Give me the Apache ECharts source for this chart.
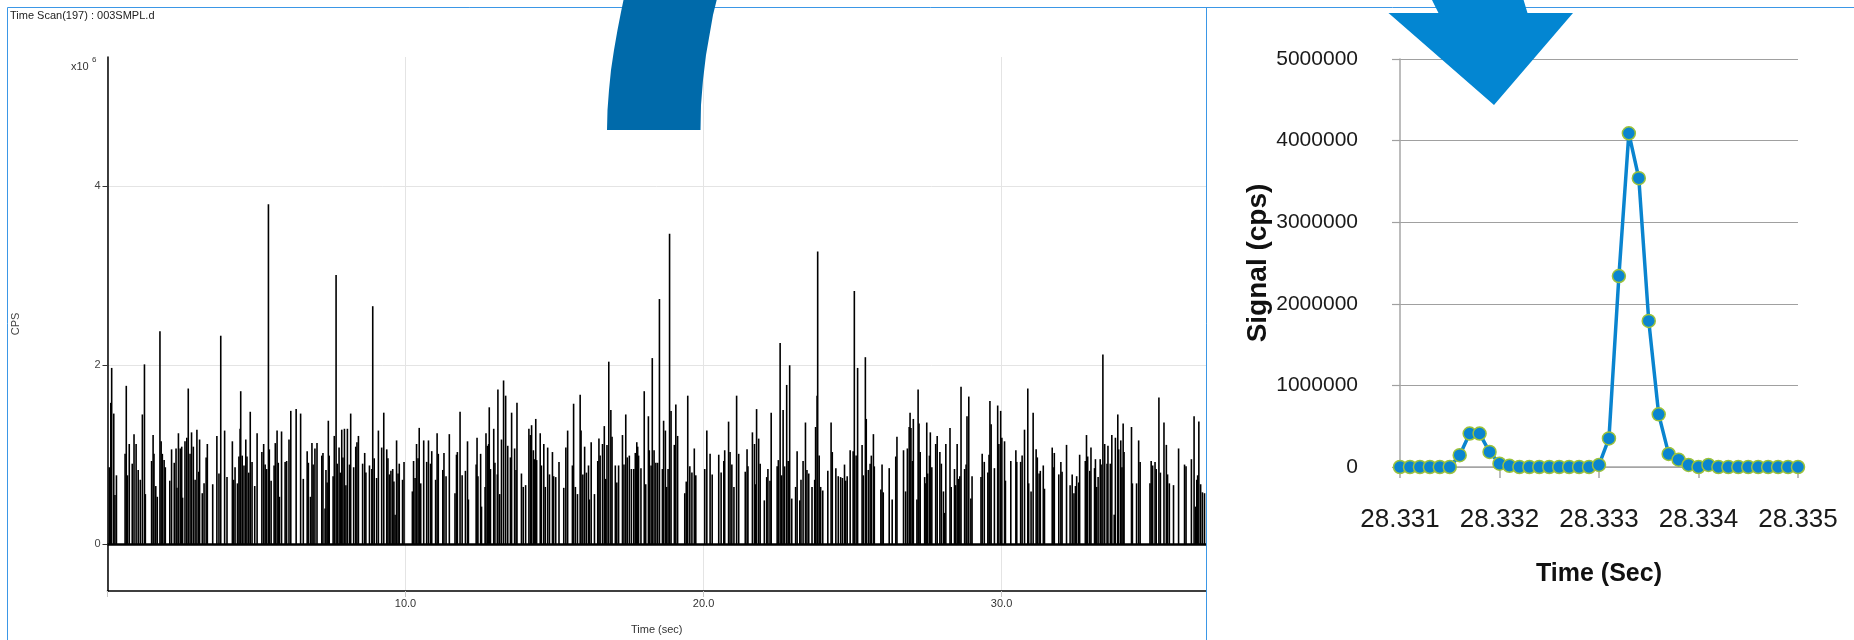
<!DOCTYPE html>
<html>
<head>
<meta charset="utf-8">
<title>Time Scan(197) : 003SMPL.d</title>
<script src="https://cdn.jsdelivr.net/npm/echarts@6/dist/echarts.min.js"></script>
<style>
  html, body { margin: 0; padding: 0; background: #fff; }
  #chart { width: 1854px; height: 640px; }
</style>
</head>
<body>
<div id="chart"></div>
<script>
// time scan: time (sec) and CPS in units of 10^6
const scanTime = [
  0.06,0.11,0.14,0.21,0.25,0.30,0.59,0.63,0.67,0.73,0.83,0.89,0.96,1.03,1.10,1.17,1.24,1.27,1.48,1.53,1.56,1.62,1.67,1.76,1.80,1.84,1.90,1.94,2.09,2.15,2.24,2.30,2.33,2.38,2.44,2.49,2.52,2.60,2.66,2.71,2.77,2.82,2.88,2.94,3.00,3.06,3.09,3.18,3.24,3.31,3.35,3.53,3.67,3.74,3.80,3.93,4.01,4.19,4.23,4.28,4.36,4.41,4.45,4.47,4.52,4.58,4.64,4.68,4.74,4.79,4.85,4.94,5.02,5.18,5.24,5.29,5.34,5.40,5.43,5.49,5.59,5.63,5.69,5.73,5.77,5.84,5.96,6.01,6.09,6.15,6.33,6.48,6.57,6.70,6.74,6.81,6.86,6.90,6.96,7.03,7.19,7.23,7.30,7.33,7.37,7.41,7.44,7.57,7.61,7.67,7.71,7.77,7.81,7.86,7.90,7.95,8.00,8.05,8.12,8.16,8.26,8.33,8.37,8.42,8.56,8.63,8.67,8.79,8.87,8.90,8.95,9.03,9.09,9.20,9.27,
  9.37,9.41,9.46,9.51,9.57,9.61,9.65,9.70,9.75,9.79,9.90,9.95,10.23,10.27,10.32,10.37,10.42,10.46,10.51,10.61,10.71,10.77,10.84,10.88,11.01,11.06,11.10,11.25,11.29,11.36,11.47,11.66,11.71,11.74,11.83,11.90,12.01,12.08,12.11,12.37,12.40,12.43,12.52,12.55,12.67,12.70,12.75,12.79,12.81,12.85,12.96,13.00,13.08,13.10,13.16,13.22,13.29,13.36,13.43,13.52,13.56,13.66,13.71,13.74,13.89,13.95,14.03,14.14,14.19,14.23,14.29,14.32,14.37,14.40,14.52,14.56,14.64,14.69,14.77,14.83,14.93,14.97,15.04,15.15,15.31,15.38,15.44,15.60,15.64,15.70,15.77,15.86,15.89,15.95,16.01,16.07,16.14,16.17,16.23,16.34,16.45,16.49,16.53,16.61,16.67,16.72,16.76,16.82,16.89,16.93,17.04,17.09,17.15,17.28,17.33,17.39,17.44,17.51,17.58,17.66,17.71,17.76,17.79,17.82,17.90,18.01,18.06,18.15,18.18,18.24,18.28,18.34,18.40,18.46,18.52,
  18.62,18.66,18.72,18.76,18.81,18.86,18.91,19.02,19.07,19.13,19.37,19.42,19.47,19.54,19.61,19.69,19.74,20.04,20.11,20.22,20.29,20.51,20.59,20.68,20.71,20.84,20.89,20.95,21.02,21.11,21.18,21.40,21.46,21.49,21.64,21.71,21.74,21.78,21.85,21.90,22.04,22.12,22.16,22.23,22.27,22.47,22.51,22.57,22.62,22.67,22.72,22.79,22.84,22.89,22.96,23.09,23.14,23.23,23.27,23.34,23.42,23.47,23.53,23.64,23.73,23.76,23.81,23.83,23.88,23.93,24.00,24.17,24.28,24.32,24.44,24.52,24.60,24.66,24.73,24.77,24.82,24.92,25.02,25.06,25.12,25.17,25.32,25.36,25.43,25.46,25.53,25.59,25.63,25.70,25.73,25.95,25.99,26.03,26.23,26.33,26.45,26.49,26.71,26.78,26.84,26.90,26.93,26.96,27.01,27.04,27.16,27.20,27.23,27.27,27.42,27.46,27.49,27.52,27.58,27.61,27.66,
  27.79,27.84,27.93,27.98,28.05,28.08,28.13,28.27,28.31,28.42,28.46,28.51,28.55,28.60,28.64,28.76,28.81,28.84,28.90,28.97,29.01,29.31,29.35,29.42,29.54,29.58,29.61,29.65,29.76,29.87,29.91,29.97,30.01,30.10,30.13,30.31,30.48,30.51,30.64,30.69,30.77,30.88,30.91,30.99,31.06,31.16,31.20,31.26,31.30,31.40,31.44,31.70,31.73,31.77,31.92,31.99,32.03,32.18,32.30,32.37,32.43,32.48,32.52,32.59,32.62,32.81,32.85,32.89,32.96,33.00,33.12,33.15,33.19,33.24,33.31,33.34,33.40,33.46,33.54,33.57,33.65,33.70,33.78,33.82,33.90,33.93,34.00,34.04,34.08,34.11,34.36,34.39,34.53,34.60,34.65,34.98,35.02,35.07,35.15,35.19,35.28,35.33,35.45,35.53,35.57,35.63,35.77,35.94,36.14,36.19,36.37,36.46,36.51,36.55,36.58,36.62,36.68,36.74,36.81
];
const scanCps = [
  0.86,1.58,1.97,1.46,0.55,0.77,1.01,1.77,0.77,1.12,0.90,1.23,1.12,0.83,0.72,1.45,2.01,0.56,0.93,1.22,1.01,0.65,0.53,2.38,1.15,1.01,0.94,0.86,0.71,1.06,0.91,1.07,0.63,1.24,1.07,1.09,0.52,1.15,1.19,1.74,1.01,1.25,1.09,0.72,1.28,0.81,1.17,0.57,0.68,0.97,1.12,0.67,1.21,0.79,2.33,1.27,0.75,1.15,0.72,0.86,0.68,0.98,1.29,1.71,0.99,0.88,1.17,0.98,0.80,1.48,0.92,0.65,1.24,1.03,1.12,0.89,0.84,3.80,1.06,0.71,0.88,1.13,1.27,0.91,0.53,1.26,0.92,0.93,1.17,1.49,1.51,1.46,0.73,1.04,0.91,0.53,1.13,0.89,1.07,1.13,0.99,1.02,0.40,0.83,0.69,1.38,0.99,0.76,1.21,3.01,0.90,1.08,0.80,1.28,0.97,1.29,0.66,1.29,0.89,1.46,0.86,1.09,1.14,1.21,0.90,1.02,0.80,0.88,0.84,2.66,0.96,0.74,1.27,1.08,1.47,
  1.06,0.96,0.78,0.82,0.84,0.70,0.33,1.16,0.79,0.90,0.72,0.92,0.59,0.93,0.74,1.12,0.96,1.30,0.68,1.16,0.92,1.16,0.90,1.04,0.72,1.24,1.01,0.83,1.02,0.76,1.23,0.57,1.00,1.03,1.48,0.77,0.82,1.15,0.50,0.89,1.19,0.76,1.01,0.42,0.64,1.24,1.10,1.12,1.53,0.84,1.29,0.91,0.78,1.73,0.56,1.17,1.83,1.66,1.10,0.97,1.47,1.07,0.83,1.58,0.79,0.64,0.66,1.29,1.22,1.33,1.05,0.95,1.40,0.94,1.24,0.88,1.12,0.64,1.08,0.78,1.03,0.76,0.75,0.92,0.63,1.08,1.27,0.88,1.57,0.64,0.56,1.67,1.27,0.78,1.09,0.80,0.88,0.50,1.14,0.56,0.93,1.18,0.99,1.12,1.32,0.73,1.11,2.04,1.50,1.20,0.88,0.69,0.88,1.22,0.89,1.45,0.97,0.99,0.84,0.84,1.02,1.14,1.09,0.99,0.85,1.71,0.67,1.43,1.05,0.88,2.08,1.05,0.91,0.91,2.74,
  0.84,1.38,1.27,0.64,0.84,3.47,1.49,1.11,1.56,1.21,0.57,0.70,1.66,0.87,0.80,1.07,0.77,0.84,1.27,1.01,0.78,1.00,0.80,0.93,1.05,1.37,1.03,0.89,0.64,1.66,1.01,0.81,1.06,0.87,1.25,1.12,0.67,1.51,1.18,0.90,0.49,0.75,0.84,0.71,1.47,0.87,0.94,2.25,0.77,1.50,0.87,1.78,0.93,2.00,0.51,0.64,1.04,0.49,0.72,0.93,1.36,0.83,0.79,0.64,0.72,1.31,1.66,3.27,0.99,0.64,0.60,0.82,1.36,1.03,0.85,0.76,0.75,0.74,0.89,0.71,0.76,1.05,1.04,2.83,0.99,1.97,1.11,0.77,2.09,1.40,0.83,0.90,0.99,1.23,0.87,0.61,0.89,0.58,0.85,0.50,0.98,1.20,1.05,0.59,1.07,1.31,1.47,1.30,0.93,1.40,0.50,1.73,1.35,1.03,0.75,0.68,1.36,0.79,0.99,1.25,0.86,
  1.12,1.21,1.03,0.90,0.59,0.35,1.12,1.30,0.64,0.84,0.66,1.12,0.73,0.76,1.76,0.84,0.89,1.43,1.65,0.51,0.76,0.75,1.01,0.92,0.80,1.00,1.60,1.34,0.85,1.55,1.12,1.49,1.19,1.15,0.71,0.93,1.05,0.92,0.92,0.99,1.28,1.74,0.68,0.59,1.47,1.06,0.97,0.79,0.82,0.88,0.62,1.08,0.86,1.02,0.78,0.92,0.81,1.11,0.66,0.78,0.57,0.65,0.76,0.69,1.00,0.93,1.22,0.98,0.82,1.08,0.85,0.95,0.64,0.75,0.95,0.89,2.12,1.12,0.90,1.10,0.90,1.22,0.33,1.19,1.45,1.06,1.16,0.86,1.35,1.03,1.31,0.68,0.68,1.16,0.92,0.68,0.93,0.88,0.92,0.84,1.64,0.80,1.36,1.11,0.78,0.68,0.66,1.07,0.89,0.87,0.95,1.43,0.42,0.72,0.77,1.37,0.67,0.58,0.57
];
const scanTicks = [0, 2, 4];

// zoomed peak: time (sec) and signal (cps)
const peakTime = [
  28.3310,28.3311,28.3312,28.3313,28.3314,28.3315,28.3316,28.3317,28.3318,28.3319,
  28.3320,28.3321,28.3322,28.3323,28.3324,28.3325,28.3326,28.3327,28.3328,28.3329,
  28.3330,28.3331,28.3332,28.3333,28.3334,28.3335,28.3336,28.3337,28.3338,28.3339,
  28.3340,28.3341,28.3342,28.3343,28.3344,28.3345,28.3346,28.3347,28.3348,28.3349,
  28.3350
];
const peakSignal = [
  0,0,0,0,0,0,145000,410000,410000,185000,
  40000,15000,0,0,0,0,0,0,0,0,
  25000,350000,2340000,4090000,3540000,1790000,645000,160000,90000,25000,
  0,25000,0,0,0,0,0,0,0,0,
  0
];

const plainFont = "'Liberation Sans', Arial, sans-serif";

let chart = echarts.init(document.getElementById("chart"));

let scanData = scanTime.map((t, i) => [t, scanCps[i]]);
let peakData = peakTime.map((t, i) => [t, peakSignal[i]]);

let option = {
  animation: false,
  backgroundColor: "#fff",
  grid: [
    { left: 107.5, top: 57, width: 1098.5, height: 536 },
    { left: 1400, top: 59, width: 398, height: 408 },
  ],
  xAxis: [
    {
      gridIndex: 0,
      type: "value",
      min: 0,
      max: 36.86,
      interval: 10,
      name: "Time (sec)",
      nameLocation: "middle",
      nameGap: 33,
      nameTextStyle: { color: "#333", fontSize: 11, fontFamily: plainFont },
      axisLine: { onZero: false, lineStyle: { color: "#000", width: 1.5 } },
      axisTick: { length: 6, lineStyle: { color: "#c8c8c8" } },
      axisLabel: {
        color: "#333",
        fontSize: 11,
        fontFamily: plainFont,
        margin: 7,
        showMaxLabel: false,
        formatter: (v) => (v === 0 ? "" : v.toFixed(1)),
      },
      splitLine: { show: true, lineStyle: { color: "#e4e4e4", width: 1 } },
    },
    {
      gridIndex: 1,
      type: "value",
      min: 28.331,
      max: 28.335,
      interval: 0.001,
      name: "Time (Sec)",
      nameLocation: "middle",
      nameGap: 95,
      nameTextStyle: { color: "#111", fontSize: 25, fontWeight: "bold", fontFamily: plainFont },
      axisLine: { lineStyle: { color: "#a6a6a6", width: 1.5 } },
      axisTick: { length: 11, lineStyle: { color: "#a6a6a6", width: 1.5 } },
      axisLabel: {
        color: "#1a1a1a",
        fontSize: 26,
        fontFamily: plainFont,
        margin: 40,
        formatter: (v) => v.toFixed(3),
      },
      splitLine: { show: false },
    },
  ],
  yAxis: [
    {
      gridIndex: 0,
      type: "value",
      min: -0.523,
      max: 5.445,
      name: "CPS",
      nameLocation: "middle",
      nameGap: 86,
      nameRotate: 90,
      nameTextStyle: { color: "#444", fontSize: 11, fontFamily: plainFont },
      axisLine: { show: true, onZero: false, lineStyle: { color: "#000", width: 1.5 } },
      axisTick: { show: true, length: 5, customValues: scanTicks, lineStyle: { color: "#333" } },
      axisLabel: { color: "#444", fontSize: 11, fontFamily: plainFont, margin: 7, customValues: scanTicks },
      splitLine: { show: true, lineStyle: { color: "#e4e4e4", width: 1 } },
    },
    {
      gridIndex: 1,
      type: "value",
      min: 0,
      max: 5000000,
      interval: 1000000,
      name: "Signal (cps)",
      nameLocation: "middle",
      nameGap: 119,
      nameRotate: 90,
      nameTextStyle: { color: "#111", fontSize: 28, fontWeight: "bold", fontFamily: plainFont },
      axisLine: { show: true, lineStyle: { color: "#a6a6a6", width: 1.5 } },
      axisTick: { show: true, length: 8, lineStyle: { color: "#a0a0a0", width: 1.2 } },
      axisLabel: {
        color: "#1a1a1a",
        fontSize: 21,
        fontFamily: plainFont,
        margin: 42,
        formatter: (v) => String(v),
      },
      splitLine: { show: true, lineStyle: { color: "#a0a0a0", width: 1.2 } },
    },
  ],
  series: [
    {
      name: "CPS",
      type: "bar",
      xAxisIndex: 0,
      yAxisIndex: 0,
      barWidth: 1.6,
      itemStyle: { color: "#000" },
      silent: true,
      data: scanData,
      markLine: {
        silent: true,
        symbol: ["none", "none"],
        label: { show: false },
        lineStyle: { color: "#000", width: 2.5, type: "solid" },
        data: [{ yAxis: 0 }],
      },
    },
    {
      name: "Signal",
      type: "line",
      xAxisIndex: 1,
      yAxisIndex: 1,
      showSymbol: true,
      showAllSymbol: true,
      symbol: "circle",
      symbolSize: 13,
      lineStyle: { color: "#0a84cf", width: 3.5 },
      itemStyle: { color: "#0a84cf", borderColor: "#9cc23a", borderWidth: 1.5 },
      z: 5,
      data: peakData,
    },
  ],
  graphic: [
    // panel frames
    { type: "line", silent: true, z: 50, shape: { x1: 7.5, y1: 7.5, x2: 1854, y2: 7.5 }, style: { stroke: "#3b97e6", lineWidth: 1 } },
    { type: "line", silent: true, z: 50, shape: { x1: 7.5, y1: 7.5, x2: 7.5, y2: 640 }, style: { stroke: "#3b97e6", lineWidth: 1 } },
    { type: "line", silent: true, z: 50, shape: { x1: 1206.5, y1: 7.5, x2: 1206.5, y2: 640 }, style: { stroke: "#3b97e6", lineWidth: 1 } },
    { type: "text", silent: true, z: 50, x: 10, y: 10, style: { text: "Time Scan(197) : 003SMPL.d", font: "11px " + plainFont, fill: "#222" } },
    { type: "text", silent: true, z: 50, x: 71, y: 61, style: { text: "x10", font: "11px " + plainFont, fill: "#333" } },
    { type: "text", silent: true, z: 50, x: 92, y: 56, style: { text: "6", font: "8px " + plainFont, fill: "#333" } },
    // blue arc decoration
    {
      type: "polygon",
      silent: true,
      z: 100,
      shape: {
        points: [
          [607, 130], [607.5, 110], [609, 90], [611, 70], [614, 50], [617.5, 30], [621, 12], [623.5, 0], [624, -2],
          [717, -2], [716.7, 0], [713, 15], [709.5, 35], [706, 55], [703, 80], [701, 105], [700.5, 130],
        ],
      },
      style: { fill: "#006aaa" },
    },
    // blue arrow decoration
    {
      type: "polygon",
      silent: true,
      z: 100,
      shape: {
        points: [
          [1431, -2], [1438.5, 13], [1388.5, 13], [1494, 105], [1573, 13], [1527.5, 13], [1523, -2],
        ],
      },
      style: { fill: "#0386d2" },
    },
  ],
};

chart.setOption(option);
window.addEventListener("resize", () => chart.resize());
</script>
</body>
</html>
